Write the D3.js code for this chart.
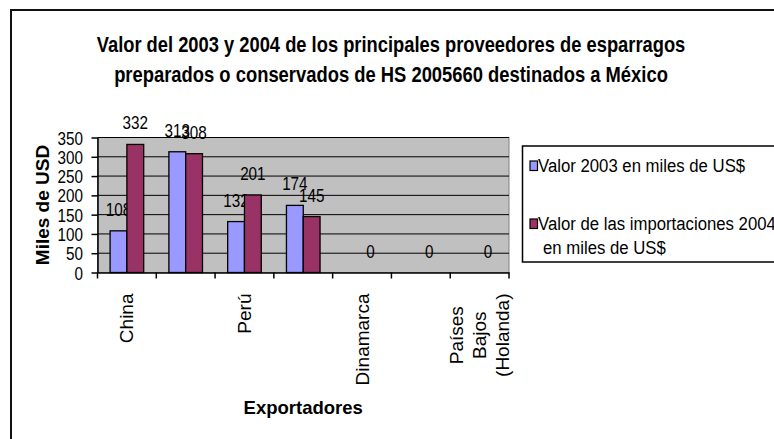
<!DOCTYPE html>
<html>
<head>
<meta charset="utf-8">
<script src="https://cdn.jsdelivr.net/npm/d3@7"></script>
<style>
  body { margin: 0; background: #fff; }
  svg text { font-family: "Liberation Sans", Arial, sans-serif; fill: #000; }
</style>
</head>
<body>
<div class="canvas"></div>
<script>
// data
const categories = ['China', '', 'Perú', '', 'Dinamarca', '', 'Países Bajos (Holanda)']
const valores2003 = [108, 313, 132, 174, null, null, null]
const valores2004 = [332, 308, 201, 145, 0, 0, 0]
const seriesNames = ['Valor 2003 en miles de US$', 'Valor de las importaciones 2004 en miles de US$']
const yTicks = [0, 50, 100, 150, 200, 250, 300, 350]
const titleLines = ['Valor del 2003 y 2004 de los principales proveedores de esparragos',
                    'preparados o conservados de HS 2005660 destinados a México']

const colours = ['#9999FF', '#993366']
const plot = {left: 97.5, right: 509, top: 137.5, bottom: 272.5}
const narrow = 0.82   // digits in the picture are squeezed sideways

const svg = d3.select('.canvas')
    .append('svg')
    .attr('width', 774)
    .attr('height', 439)

// outer frame (runs off the right and bottom)
svg.append('rect')
    .attr('x', 11).attr('y', 10)
    .attr('width', 800).attr('height', 460)
    .attr('fill', '#fff')
    .attr('stroke', '#111')
    .attr('stroke-width', 2)

const x = d3.scaleBand()
    .domain(d3.range(categories.length))
    .range([plot.left, plot.right])

const bw = x.bandwidth() / 3.5
const xs = d3.scaleBand()
    .domain([0, 1])
    .range([bw * 0.75, bw * 2.75])

const y = d3.scaleLinear()
    .domain([0, 350])
    .range([plot.bottom, plot.top])

// plot area
svg.append('rect')
    .attr('x', plot.left).attr('y', plot.top)
    .attr('width', plot.right - plot.left).attr('height', plot.bottom - plot.top)
    .attr('fill', '#C0C0C0')
    .attr('stroke', '#808080')

svg.append('g')
    .selectAll('line')
    .data(yTicks.slice(1))
    .enter().append('line')
    .attr('x1', plot.left).attr('x2', plot.right)
    .attr('y1', d => y(d)).attr('y2', d => y(d))
    .attr('stroke', '#000')

// bars
const series = [valores2003, valores2004]
series.forEach((vals, s) => {
    const g = svg.append('g')
    g.selectAll('rect')
        .data(vals.map((v, i) => ({v, i})).filter(d => d.v !== null && d.v > 0))
        .enter().append('rect')
        .attr('x', d => x(d.i) + xs(s))
        .attr('y', d => y(d.v))
        .attr('width', xs.bandwidth())
        .attr('height', d => y(0) - y(d.v))
        .attr('fill', colours[s])
        .attr('stroke', '#000')
        .attr('stroke-width', 1.3)
    g.selectAll('text')
        .data(vals.map((v, i) => ({v, i})).filter(d => d.v !== null))
        .enter().append('text')
        .attr('transform', d => `translate(${x(d.i) + xs(s) + xs.bandwidth() / 2},${y(d.v) - 15}) scale(${narrow},1)`)
        .attr('text-anchor', 'middle')
        .style('font-size', '18.6px')
        .text(d => d.v)
})

// axes
const yAxis = svg.append('g')
    .attr('transform', `translate(${plot.left},0)`)
    .call(d3.axisLeft(y).tickValues(yTicks).tickSize(6).tickSizeOuter(0))
yAxis.select('.domain').attr('stroke', '#000').attr('stroke-width', 1.5)
yAxis.selectAll('.tick line').attr('stroke', '#000').attr('stroke-width', 1.5)
yAxis.selectAll('text')
    .attr('x', 0).attr('dy', null).attr('y', 6.5)
    .attr('transform', `translate(-14.5,0) scale(${narrow},1)`)
    .style('font-size', '18.6px')

const xAxis = svg.append('g')
    .attr('transform', `translate(0,${plot.bottom})`)
    .call(d3.axisBottom(x).tickValues([]).tickSizeOuter(0))
xAxis.select('.domain').attr('stroke', '#000').attr('stroke-width', 1.5)
xAxis.selectAll('.sep')
    .data(d3.range(categories.length + 1))
    .enter().append('line')
    .attr('class', 'sep')
    .attr('x1', i => plot.left + i * x.step()).attr('x2', i => plot.left + i * x.step())
    .attr('y1', 0).attr('y2', 6)
    .attr('stroke', '#000').attr('stroke-width', 1.5)

// category labels, rotated
const wrap = {'Países Bajos (Holanda)': ['Países', 'Bajos', '(Holanda)']}
const labelTop = plot.bottom + 21
svg.append('g')
    .selectAll('g')
    .data(categories.map((c, i) => ({c, i})).filter(d => d.c))
    .enter().append('g')
    .attr('transform', d => `translate(${x(d.i) + x.bandwidth() / 2},${labelTop}) rotate(-90)`)
    .each(function(d) {
        const lines = wrap[d.c] || [d.c]
        const t = d3.select(this).append('text')
            .style('font-size', '19px')
        t.selectAll('tspan')
            .data(lines)
            .enter().append('tspan')
            .attr('x', 0)
            .attr('y', (l, k) => (k - (lines.length - 1) / 2) * 23 + 6.5)
            .text(l => l)
        if (lines.length > 1) {
            // wrapped lines are centred inside the block
            let w = 0
            t.selectAll('tspan').each(function() { w = Math.max(w, this.getComputedTextLength()) })
            t.attr('text-anchor', 'middle').selectAll('tspan').attr('x', -w / 2)
        } else {
            t.attr('text-anchor', 'end')
        }
    })

// axis titles
svg.append('text')
    .attr('x', (plot.left + plot.right) / 2).attr('y', 414)
    .attr('text-anchor', 'middle')
    .style('font-size', '18.5px').style('font-weight', 'bold')
    .text('Exportadores')

svg.append('text')
    .attr('transform', `translate(49,${(plot.top + plot.bottom) / 2}) rotate(-90)`)
    .attr('text-anchor', 'middle')
    .style('font-size', '19px').style('font-weight', 'bold')
    .text('Miles de USD')

// title, squeezed to the widths seen in the picture
const titleWidths = [589, 554]
svg.append('g')
    .selectAll('text')
    .data(titleLines)
    .enter().append('text')
    .attr('text-anchor', 'middle')
    .style('font-size', '22px').style('font-weight', 'bold')
    .text(d => d)
    .attr('transform', function(d, i) {
        const k = titleWidths[i] / this.getComputedTextLength()
        return `translate(391,${52 + i * 30}) scale(${k},1)`
    })

// legend
const legend = svg.append('g')
legend.append('rect')
    .attr('x', 522.5).attr('y', 146)
    .attr('width', 300).attr('height', 116)
    .attr('fill', '#fff').attr('stroke', '#000').attr('stroke-width', 1.5)
const legendLines = [[seriesNames[0]], ['Valor de las importaciones 2004', 'en miles de US$']]
const ly = [172, 230]
const lx = [538, 543]
legendLines.forEach((lines, s) => {
    legend.append('rect')
        .attr('x', 530).attr('y', ly[s] - 11)
        .attr('width', 7.5).attr('height', 9.5)
        .attr('fill', colours[s]).attr('stroke', '#000').attr('stroke-width', 1.2)
    lines.forEach((l, k) => {
        legend.append('text')
            .attr('transform', `translate(${lx[k]},${ly[s] + k * 24}) scale(0.9,1)`)
            .style('font-size', '18.6px')
            .text(l)
    })
})
</script>
</body>
</html>
